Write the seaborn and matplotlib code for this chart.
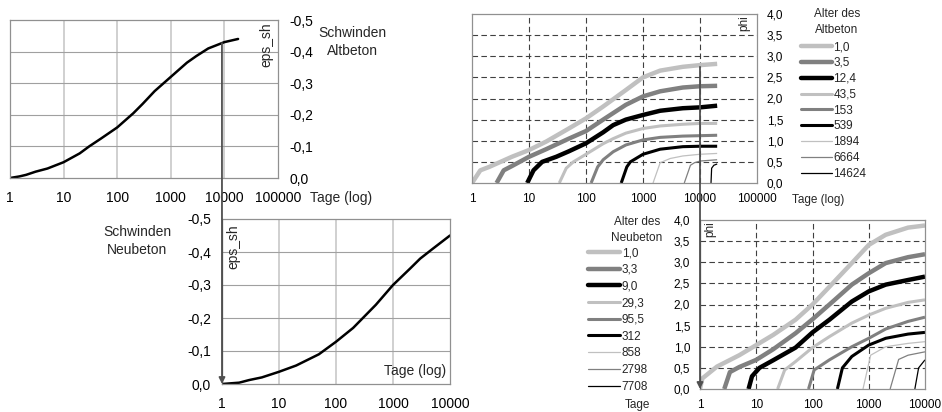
import numpy as np
import pandas as pd
import matplotlib
matplotlib.use("Agg")
import matplotlib.pyplot as plt
import seaborn as sns
from matplotlib.lines import Line2D
from matplotlib.patches import ConnectionPatch
from matplotlib.ticker import FixedLocator, FuncFormatter, NullLocator

# --- data ---

# shrinkage, old concrete (Altbeton)
alt_sh_days = [1, 1.5, 2, 3, 5, 10, 20, 30, 50, 100, 200, 300, 500, 1000, 2000, 3000, 5000, 10000, 18000]
alt_sh_eps = [0, -0.005, -0.01, -0.02, -0.03, -0.05, -0.078, -0.1, -0.125, -0.16, -0.205, -0.235,
              -0.275, -0.32, -0.365, -0.386, -0.41, -0.43, -0.44]

# shrinkage, new concrete (Neubeton)
neu_sh_days = [1, 2, 3, 5, 10, 20, 50, 100, 200, 500, 1000, 2000, 3000, 5000, 10000]
neu_sh_eps = [0, -0.004, -0.012, -0.02, -0.037, -0.056, -0.09, -0.128, -0.17, -0.24, -0.30,
              -0.35, -0.38, -0.41, -0.45]

# creep coefficients, old concrete, one curve per loading age
alt_ages = ["1,0", "3,5", "12,4", "43,5", "153", "539", "1894", "6664", "14624"]
alt_days = [
    [1, 1.4, 2, 5, 10, 20, 50, 100, 200, 500, 1000, 2000, 5000, 10000, 20000],
    [2.7, 3.6, 5, 10, 20, 50, 100, 200, 500, 1000, 2000, 5000, 10000, 20000],
    [9.3, 12, 17, 30, 50, 100, 200, 300, 500, 1000, 2000, 5000, 10000, 20000],
    [34, 45, 60, 100, 200, 300, 500, 1000, 2000, 5000, 10000, 20000],
    [123, 160, 200, 300, 500, 1000, 2000, 5000, 10000, 20000],
    [415, 520, 600, 1000, 2000, 5000, 10000, 20000],
    [1500, 2000, 3000, 5000, 10000, 20000],
    [5300, 6800, 8000, 10000, 20000],
    [15600, 16000, 17500, 20000],
]
alt_phi = [
    [0, 0.3, 0.38, 0.62, 0.78, 0.98, 1.29, 1.53, 1.81, 2.2, 2.5, 2.66, 2.75, 2.79, 2.82],
    [0, 0.3, 0.4, 0.62, 0.8, 1.05, 1.23, 1.5, 1.85, 2.05, 2.17, 2.26, 2.29, 2.3],
    [0, 0.3, 0.5, 0.62, 0.75, 0.94, 1.2, 1.37, 1.5, 1.61, 1.71, 1.77, 1.79, 1.83],
    [0, 0.35, 0.5, 0.68, 0.93, 1.05, 1.18, 1.29, 1.35, 1.39, 1.41, 1.41],
    [0, 0.38, 0.55, 0.74, 0.9, 1.02, 1.08, 1.11, 1.12, 1.13],
    [0, 0.38, 0.5, 0.68, 0.8, 0.86, 0.87, 0.87],
    [0, 0.48, 0.58, 0.64, 0.68, 0.7],
    [0, 0.42, 0.48, 0.52, 0.55],
    [0, 0.35, 0.42, 0.45],
]

# creep coefficients, new concrete
neu_ages = ["1,0", "3,3", "9,0", "29,3", "95,5", "312", "858", "2798", "7708"]
neu_days = [
    [1, 1.1, 2, 5, 10, 20, 50, 100, 200, 500, 1000, 2000, 5000, 10000],
    [2.7, 3.4, 5, 10, 20, 50, 100, 200, 500, 1000, 2000, 5000, 10000],
    [7.3, 8.4, 11.4, 20, 50, 100, 200, 500, 1000, 2000, 5000, 10000],
    [24, 32, 50, 100, 200, 500, 1000, 2000, 5000, 10000],
    [85, 107, 200, 500, 1000, 2000, 5000, 10000],
    [277, 340, 500, 1000, 2000, 5000, 10000],
    [790, 1080, 2000, 5000, 10000],
    [2400, 3400, 5000, 10000],
    [6600, 7700, 10000],
]
neu_phi = [
    [0, 0.25, 0.53, 0.8, 1.04, 1.28, 1.64, 2.0, 2.42, 2.98, 3.41, 3.65, 3.82, 3.87],
    [0, 0.4, 0.52, 0.69, 0.94, 1.32, 1.65, 2.0, 2.47, 2.74, 2.98, 3.12, 3.19],
    [0, 0.3, 0.5, 0.68, 0.98, 1.34, 1.64, 2.07, 2.31, 2.47, 2.58, 2.66],
    [0, 0.45, 0.65, 0.98, 1.24, 1.56, 1.75, 1.91, 2.05, 2.11],
    [0, 0.45, 0.69, 1.0, 1.2, 1.42, 1.6, 1.7],
    [0, 0.5, 0.77, 1.04, 1.2, 1.3, 1.34],
    [0, 0.8, 1.0, 1.08, 1.12],
    [0, 0.7, 0.8, 0.88],
    [0, 0.5, 0.69],
]

ticks_5dec = [1, 10, 100, 1000, 10000, 100000]
ticks_4dec = [1, 10, 100, 1000, 10000]
eps_ticks = [0, -0.1, -0.2, -0.3, -0.4, -0.5]
phi_ticks = [0, 0.5, 1.0, 1.5, 2.0, 2.5, 3.0, 3.5, 4.0]

# line style cycle: light / mid / black, thick -> thin
curve_colors = ["#c0c0c0", "#808080", "#000000"] * 3
curve_widths = [3.2] * 3 + [2.2] * 3 + [0.9] * 3

# --- styling ---
sns.set_theme(style="white")
plt.rcParams["font.family"] = ["Liberation Sans", "DejaVu Sans"]

W, H = 942, 412
fig = plt.figure(figsize=(W / 100, H / 100), dpi=100)


def px_axes(left, top, right, bottom):
    return fig.add_axes([left / W, 1 - bottom / H, (right - left) / W, (bottom - top) / H])


def ftext(x, y, s, **kw):
    fig.text(x / W, 1 - y / H, s, **kw)


comma = FuncFormatter(lambda v, p: ("%.1f" % v).replace(".", ",").replace("-0,0", "0,0"))
intfmt = FuncFormatter(lambda v, p: "%d" % round(v))


def setup_shrink(ax, xticks, side, fs):
    ax.set_xscale("log")
    ax.set_xlim(xticks[0], xticks[-1])
    ax.set_ylim(0, -0.5)
    ax.xaxis.set_major_locator(FixedLocator(xticks))
    ax.xaxis.set_minor_locator(NullLocator())
    ax.xaxis.set_major_formatter(intfmt)
    ax.yaxis.set_major_locator(FixedLocator(eps_ticks))
    ax.yaxis.set_major_formatter(comma)
    ax.grid(False)
    for t in xticks[1:-1]:
        ax.axvline(t, color="#d0d0d0", lw=1.4, zorder=0)
    for t in eps_ticks[1:-1]:
        ax.axhline(t, color="#a0a0a0", lw=0.8, zorder=0)
    for s in ax.spines.values():
        s.set_color("#909090")
        s.set_linewidth(0.9)
    ax.yaxis.set_ticks_position(side)
    ax.tick_params(axis="both", length=0, labelsize=fs, colors="black")
    ax.tick_params(axis="y", pad=8)
    ax.tick_params(axis="x", pad=9)
    ax.set_xlabel("")
    ax.set_ylabel("")


def setup_creep(ax, xticks, side, fs):
    ax.set_xscale("log")
    ax.set_xlim(xticks[0], xticks[-1])
    ax.set_ylim(0, 4.0)
    ax.xaxis.set_major_locator(FixedLocator(xticks))
    ax.xaxis.set_minor_locator(NullLocator())
    ax.xaxis.set_major_formatter(intfmt)
    ax.yaxis.set_major_locator(FixedLocator(phi_ticks))
    ax.yaxis.set_major_formatter(comma)
    ax.grid(False)
    for t in xticks[1:-1]:
        ax.axvline(t, color="#404040", lw=0.8, ls=(0, (5, 3)), zorder=0)
    for t in phi_ticks[1:-1]:
        ax.axhline(t, color="#404040", lw=0.8, ls=(0, (5, 3)), zorder=0)
    for s in ax.spines.values():
        s.set_color("#909090")
        s.set_linewidth(0.9)
    ax.yaxis.set_ticks_position(side)
    ax.tick_params(axis="both", length=0, labelsize=fs, colors="black")
    ax.tick_params(axis="y", pad=7)
    ax.tick_params(axis="x", pad=7)
    ax.set_xlabel("")
    ax.set_ylabel("")


# --- panel 1: Schwinden Altbeton ---
ax1 = px_axes(10, 20, 278, 178)
sns.lineplot(x=alt_sh_days, y=alt_sh_eps, ax=ax1, color="black", lw=1.8)
setup_shrink(ax1, ticks_5dec, "right", 10)
ax1.text(0.955, 0.985, "eps_sh", rotation=90, ha="center", va="top", fontsize=10,
         transform=ax1.transAxes)
ftext(310, 198, "Tage (log)", fontsize=10, va="center", ha="left")
ftext(352, 42, "Schwinden\nAltbeton", fontsize=10, va="center", ha="center",
      multialignment="center", linespacing=1.35)

# --- panel 2: Schwinden Neubeton ---
ax2 = px_axes(222, 219, 450, 384)
sns.lineplot(x=neu_sh_days, y=neu_sh_eps, ax=ax2, color="black", lw=1.8)
setup_shrink(ax2, ticks_4dec, "left", 10)
ax2.text(0.05, 0.97, "eps_sh", rotation=90, ha="center", va="top", fontsize=10,
         transform=ax2.transAxes)
ax2.text(0.985, 0.08, "Tage (log)", ha="right", va="center", fontsize=10,
         transform=ax2.transAxes)
ftext(137, 241, "Schwinden\nNeubeton", fontsize=10, va="center", ha="center",
      multialignment="center", linespacing=1.35)
ax2.spines["left"].set_color("#505050")

# --- panel 3: Kriechen Altbeton ---
ax3 = px_axes(472, 14, 757, 183)
for i in range(len(alt_ages)):
    sns.lineplot(x=alt_days[i], y=alt_phi[i], ax=ax3, color=curve_colors[i],
                 lw=curve_widths[i], solid_capstyle="butt")
setup_creep(ax3, ticks_5dec, "right", 8.5)
ax3.text(0.955, 0.99, "phi", rotation=90, ha="center", va="top", fontsize=8.5,
         transform=ax3.transAxes)
ftext(792, 200, "Tage (log)", fontsize=8.5, va="center", ha="left")

# --- panel 4: Kriechen Neubeton ---
ax4 = px_axes(700, 220, 925, 389)
for i in range(len(neu_ages)):
    sns.lineplot(x=neu_days[i], y=neu_phi[i], ax=ax4, color=curve_colors[i],
                 lw=curve_widths[i], solid_capstyle="butt")
setup_creep(ax4, ticks_4dec, "left", 8.5)
ax4.text(0.045, 0.99, "phi", rotation=90, ha="center", va="top", fontsize=8.5,
         transform=ax4.transAxes)
ax4.spines["left"].set_color("#505050")
ftext(637, 405, "Tage", fontsize=8.5, va="center", ha="center")

# --- legends ---
handles = [Line2D([], [], color=c, lw=w) for c, w in zip(curve_colors, curve_widths)]
leg3 = fig.legend(handles, alt_ages, loc="upper left", bbox_to_anchor=(801 / W, 1 - 41 / H),
                  frameon=False, fontsize=8.5, handlelength=2.6, handletextpad=0.15,
                  labelspacing=0.33, borderpad=0, borderaxespad=0)
ftext(837, 22, "Alter des\nAltbeton", fontsize=8.5, va="center", ha="center",
      multialignment="center", linespacing=1.5)
leg4 = fig.legend(handles, neu_ages, loc="upper left", bbox_to_anchor=(588 / W, 1 - 247 / H),
                  frameon=False, fontsize=8.5, handlelength=2.7, handletextpad=0.15,
                  labelspacing=0.4, borderpad=0, borderaxespad=0)
ftext(637, 230, "Alter des\nNeubeton", fontsize=8.5, va="center", ha="center",
      multialignment="center", linespacing=1.5)

# --- connector arrows between old and new concrete panels ---
con1 = ConnectionPatch(xyA=(9000, -0.427), coordsA=ax1.transData, xyB=(1, 0), coordsB=ax2.transData,
                       arrowstyle="-|>", color="#505050", lw=1.3, mutation_scale=9,
                       shrinkA=0, shrinkB=0, zorder=5)
fig.add_artist(con1)
con2 = ConnectionPatch(xyA=(10000, 2.75), coordsA=ax3.transData, xyB=(1, 0), coordsB=ax4.transData,
                       arrowstyle="-|>", color="#505050", lw=1.3, mutation_scale=9,
                       shrinkA=0, shrinkB=0, zorder=5)
fig.add_artist(con2)

fig.savefig("out.png", dpi=100)
